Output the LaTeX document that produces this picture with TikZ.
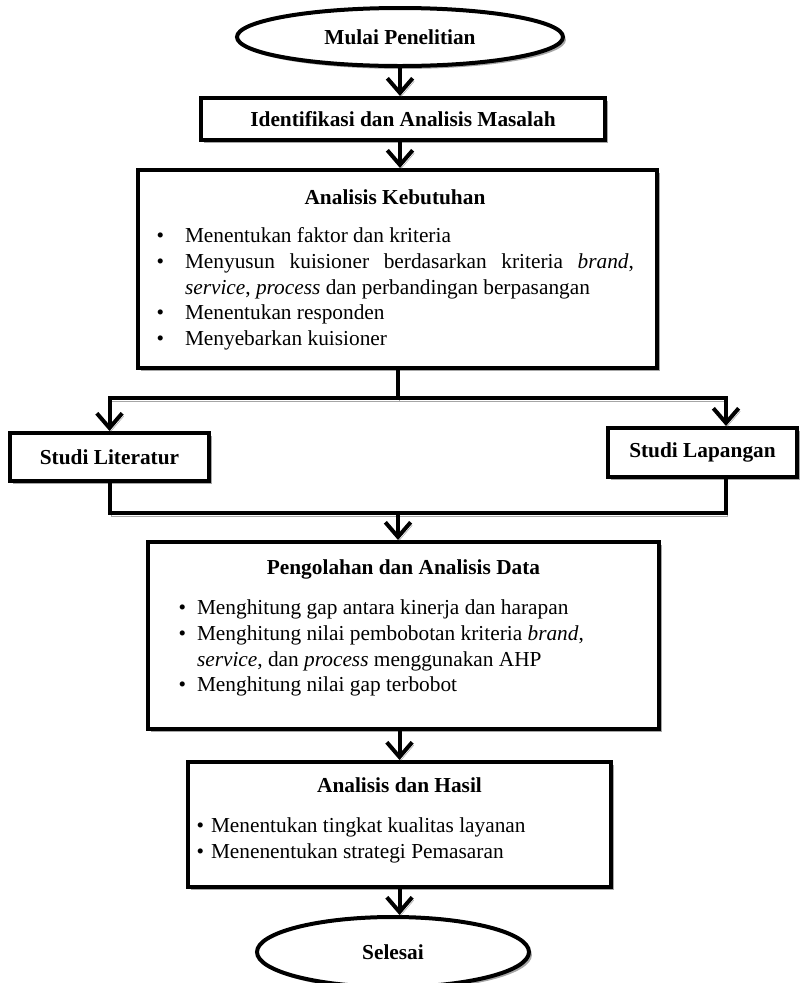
\documentclass[tikz,border=0pt]{standalone}
\usepackage{fontspec}
\setmainfont{Liberation Serif}
\usetikzlibrary{arrows.meta,shapes.geometric,shadows}
\newlength{\pxu}\setlength{\pxu}{0.75pt}
\hyphenpenalty=10000
\exhyphenpenalty=10000
\tolerance=10000
\newenvironment{butir}[2]{%
	\begin{list}{\textbullet}{%
		\setlength{\leftmargin}{#1}\setlength{\labelsep}{#2}%
		\setlength{\labelwidth}{\dimexpr#1-#2\relax}\setlength{\itemindent}{0pt}%
		\setlength{\topsep}{0pt}\setlength{\partopsep}{0pt}%
		\setlength{\itemsep}{0pt}\setlength{\parsep}{0pt}}}%
	{\end{list}}
\tikzset{
	kotak/.style={draw, line width=3pt, fill=white, inner sep=0pt,
		drop shadow={shadow xshift=2.2pt, shadow yshift=-2.2pt, fill=black!35, opacity=1}},
	elips/.style={kotak, ellipse},
	isi/.style={anchor=north, inner sep=0pt},
	garis/.style={line width=3pt, preaction={draw=black!35, transform canvas={shift={(1.2pt,-2.2pt)}}}},
	panah/.style={garis, -{Straight Barb[length=11pt, width=19pt]}},
}

\begin{document}
\begin{tikzpicture}[x=0.75pt, y=-0.75pt, every node/.style={font=\fontsize{16pt}{19.2pt}\selectfont}]
			%%%%% START %%%%%
			
			\useasboundingbox (0,0) rectangle (801,983);
			
			\node[elips, minimum width=326\pxu, minimum height=58\pxu] (mulai) at (400,37) {\bfseries Mulai Penelitian};
			\node[kotak, minimum width=404\pxu, minimum height=42\pxu] (identifikasi) at (403,119) {\bfseries Identifikasi dan Analisis Masalah};
			
			\node[kotak, minimum width=519\pxu, minimum height=198\pxu] (kebutuhan) at (397.5,269) {};
			\node[isi] (isikebutuhan) at (395,189.5) {\begin{minipage}{478\pxu}
				{\centering\bfseries Analisis Kebutuhan\par}\vspace{9.5pt}
				\begin{butir}{29\pxu}{21\pxu}
					\item Menentukan faktor dan kriteria
					\item Menyusun kuisioner berdasarkan kriteria \textit{brand}, \textit{service}, \textit{process} dan perbandingan berpasangan
					\item Menentukan responden
					\item Menyebarkan kuisioner
				\end{butir}
			\end{minipage}};
			
			\node[kotak, minimum width=199\pxu, minimum height=48\pxu] (literatur) at (109.5,457) {\bfseries Studi Literatur};
			\node[kotak, minimum width=189\pxu, minimum height=49\pxu] (lapangan) at (702.5,452.5) {\bfseries Studi Lapangan};
			
			\node[kotak, minimum width=511\pxu, minimum height=187\pxu] (pengolahan) at (403.5,635.5) {};
			\node[isi] (isipengolahan) at (403.5,559.5) {\begin{minipage}{450\pxu}
				{\centering\bfseries Pengolahan dan Analisis Data\par}\vspace{11pt}
				\raggedright
				\begin{butir}{18.5\pxu}{11\pxu}
					\item Menghitung gap antara kinerja dan harapan
					\item Menghitung nilai pembobotan kriteria \textit{brand}, \textit{service}, dan \textit{process} menggunakan AHP
					\item Menghitung nilai gap terbobot
				\end{butir}
			\end{minipage}};
			
			\node[kotak, minimum width=423\pxu, minimum height=125\pxu] (hasil) at (399.5,824.5) {};
			\node[isi] (isihasil) at (399.5,777.5) {\begin{minipage}{406\pxu}
				{\centering\bfseries Analisis dan Hasil\par}\vspace{11pt}
				\raggedright
				\begin{butir}{14.5\pxu}{7\pxu}
					\item Menentukan tingkat kualitas layanan
					\item Menenentukan strategi Pemasaran
				\end{butir}
			\end{minipage}};
			
			\node[elips, minimum width=272\pxu, minimum height=70\pxu] (selesai) at (393,952) {\bfseries Selesai};
			
			\coordinate (cabang) at (397.5,398);
			\coordinate (gabung) at (398,513);
			
			\draw[panah] (mulai.south) -- (mulai.south |- identifikasi.north);
			\draw[panah] (mulai.south |- identifikasi.south) -- (mulai.south |- kebutuhan.north);
			
			\draw[garis] (kebutuhan.south) -- (cabang);
			\draw[panah] (cabang) -| (literatur.north);
			\draw[panah] (cabang) -| ([xshift=23.5\pxu]lapangan.north);
			
			\draw[garis] (literatur.south) |- (gabung) -| ([xshift=23.5\pxu]lapangan.south);
			\draw[panah] (gabung) -- (gabung |- pengolahan.north);
			
			\draw[panah] (hasil.north |- pengolahan.south) -- (hasil.north);
			\draw[panah] (hasil.south) -- (hasil.south |- selesai.north);
			
			%%%%% END %%%%%
		\end{tikzpicture}
\end{document}
